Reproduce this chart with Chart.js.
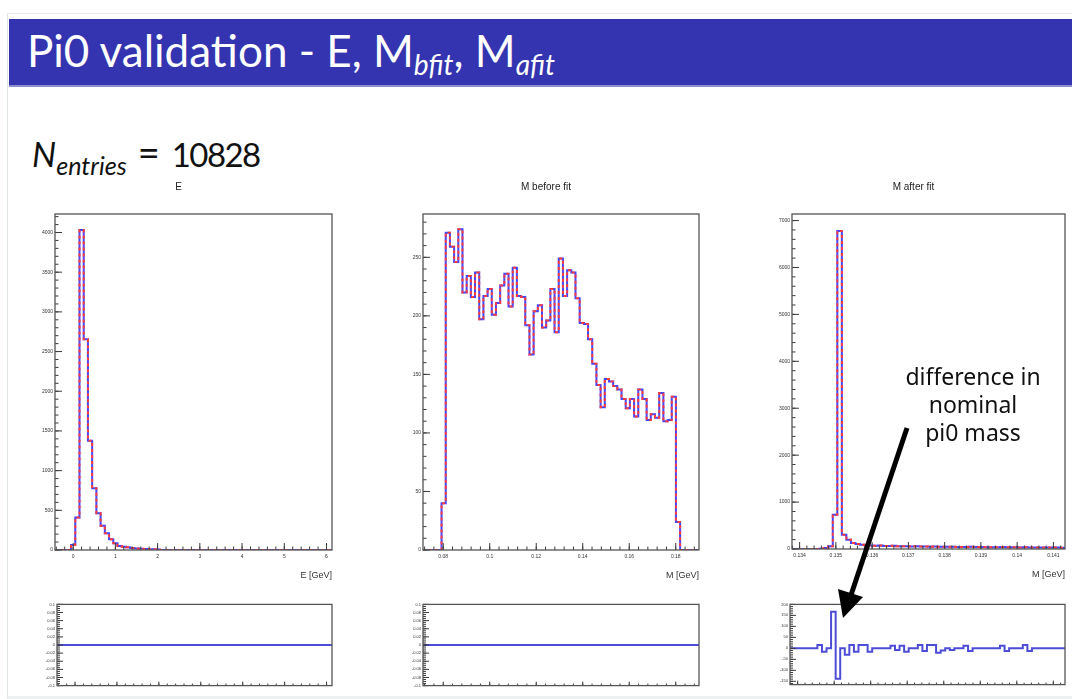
<!DOCTYPE html>
<html>
<head>
<meta charset="utf-8">
<script src="https://cdn.jsdelivr.net/npm/chart.js@4.4.1/dist/chart.umd.min.js"></script>
<style>
  html, body { margin: 0; padding: 0; width: 1072px; height: 699px; overflow: hidden; background: #fff; }
  #slide { position: absolute; left: 7px; top: 13px; width: 1070px; height: 682px; background: #fff;
           border-left: 1px solid #dfe4e4; border-top: 1px solid #e4e8e8; border-bottom: 3px solid #edf1f1; }
  #bar { position: absolute; left: 9px; top: 19px; width: 1063px; height: 66px; background: #3434b0;
         border-bottom: 2px solid #8c8cd0; }
  #bar .t { position: absolute; left: 18px; top: 5px; color: #fff; font-family: Lato, sans-serif;
            font-size: 44px; white-space: nowrap; letter-spacing: 0px; }
  #bar sub { font-style: italic; font-size: 0.64em; vertical-align: -0.28em; }
  #nent { position: absolute; left: 32px; top: 132px; height: 44px; font-family: Lato, sans-serif; font-size: 34px;
          line-height: 44px; color: #111; white-space: nowrap; }
  #nent i { font-style: italic; }
  #nent sub { font-style: italic; font-size: 0.74em; vertical-align: -0.3em; line-height: 0; }
  #nent .eq { font-size: 38px; margin: 0 12px 0 11px; line-height: 0; }
  #nent .num { font-size: 33px; letter-spacing: -1.6px; line-height: 0; }
  #note { position: absolute; left: 880px; top: 362px; width: 186px; text-align: center;
          font-family: "Noto Sans", sans-serif; font-size: 23px; line-height: 28px; color: #111; }
  canvas { position: absolute; }
  svg { position: absolute; left: 0; top: 0; }
</style>
</head>
<body>
<div id="slide"></div>
<div id="bar"><span class="t">Pi0 validation - E, M<sub>bfit</sub>, M<sub>afit</sub></span></div>
<div id="nent"><i>N</i><sub>entries</sub><span class="eq">=</span><span class="num">10828</span></div>
<div id="charts"></div>
<div id="note">difference in<br>nominal<br>pi0 mass</div>
<svg width="1072" height="699">
  <line x1="907" y1="428" x2="851" y2="595" stroke="#000" stroke-width="5"/>
  <polygon points="843,618 863,597 838,589" fill="#000"/>
</svg>

<script>
// ---- E histogram (bins of 0.1 GeV) ----
const eStart = -0.05;
const eWidth = 0.1;
const eCounts = [63, 409, 4030, 2654, 1377, 779, 463, 307, 210, 135, 84, 50, 42, 34, 25, 20, 15, 12, 10, 8, 6];
const eDiff = [0, 0, 0, 0, 0, 0, 0, 0, 0, 0, 0, 0, 0, 0, 0, 0, 0, 0, 0, 0, 0];
const eXTicks = [0, 1, 2, 3, 4, 5, 6];
const eXLabels = ["0", "1", "2", "3", "4", "5", "6"];
const eYTicks = [0, 500, 1000, 1500, 2000, 2500, 3000, 3500, 4000];

// ---- M before fit ----
const mbStart = 0.07928;
const mbWidth = 0.0018;
const mbCounts = [40, 271, 259, 246, 274, 220, 234, 216, 237, 197, 217, 223, 201, 211, 226, 236, 208, 241, 217,
  216, 192, 167, 204, 209, 190, 196, 223, 186, 249, 217, 239, 237, 215, 194, 193, 180, 159, 141, 122, 146, 144,
  140, 137, 129, 121, 129, 114, 137, 129, 111, 116, 113, 134, 110, 111, 131, 24];
const mbDiff = [0, 0, 0, 0, 0, 0, 0, 0, 0, 0, 0, 0, 0, 0, 0, 0, 0, 0, 0, 0, 0, 0, 0, 0, 0, 0, 0, 0, 0,
  0, 0, 0, 0, 0, 0, 0, 0, 0, 0, 0, 0, 0, 0, 0, 0, 0, 0, 0, 0, 0, 0, 0, 0, 0, 0, 0, 0];
const mbXTicks = [0.08, 0.1, 0.12, 0.14, 0.16, 0.18];
const mbXLabels = ["0.08", "0.1", "0.12", "0.14", "0.16", "0.18"];
const mbYTicks = [0, 50, 100, 150, 200, 250];

// ---- M after fit ----
const maStart = 0.13379;
const maWidth = 0.000125;
const maCounts = [0, 0, 0, 0, 0, 0, 4, 20, 57, 731, 6778, 305, 199, 128, 106, 92, 81, 77, 70, 72, 66, 63,
  67, 60, 58, 61, 55, 57, 52, 54, 50, 53, 47, 49, 46, 48, 44, 45, 43, 46, 41, 40, 42, 38, 39, 37, 40, 36,
  35, 37, 34, 36, 33, 34, 32, 33, 31, 30, 32, 29];
const maDiff = [0, 0, 0, 0, 0, 0, 15, -15, 0, 167, -138, 0, -29, 15, -15, 15, 15, -15, 0, 0, 0, 0,
  12, -8, 12, -15, 0, 0, 15, -12, 15, 15, -20, -10, 0, -8, 0, 0, 12, -12, 0, 0, 0, 0, 0, 0,
  12, -12, 0, 0, 0, 15, -12, 0, 0, 0, 0, 0, 0, 0];
const maXTicks = [0.134, 0.135, 0.136, 0.137, 0.138, 0.139, 0.14, 0.141];
const maXLabels = ["0.134", "0.135", "0.136", "0.137", "0.138", "0.139", "0.14", "0.141"];
const maYTicks = [0, 1000, 2000, 3000, 4000, 5000, 6000, 7000];

// ---- difference pads ----
const dSmallTicks = [-0.1, -0.08, -0.06, -0.04, -0.02, 0, 0.02, 0.04, 0.06, 0.08, 0.1];
const dSmallLabels = ["-0.1", "-0.08", "-0.06", "-0.04", "-0.02", "0", "0.02", "0.04", "0.06", "0.08", "0.1"];
const dMaTicks = [-150, -100, -50, 0, 50, 100, 150, 200];

const tickFont = { family: "Liberation Sans", size: 5 };

// histogram outline as step points, zero outside the filled bins
const stepPoints = (start, width, values, xMin, xMax) => {
  const pts = [{ x: xMin, y: 0 }];
  values.forEach((v, i) => pts.push({ x: start + i * width, y: v }));
  pts.push({ x: start + values.length * width, y: 0 });
  pts.push({ x: xMax, y: 0 });
  return pts;
};

const listTicks = (min, max, step) => {
  const out = [];
  for (let v = Math.ceil(min / step - 1e-6) * step; v <= max + 1e-9; v += step) out.push(v);
  return out;
};

// ROOT-like frame with inward major/minor ticks
const rootFrame = {
  id: "rootFrame",
  afterDatasetsDraw(chart, args, o) {
    const { ctx, chartArea: a, scales: { x, y } } = chart;
    ctx.save();
    ctx.strokeStyle = "#3a3a3a";
    ctx.lineWidth = 1;
    ctx.beginPath();
    o.xMajor.forEach(v => { const px = x.getPixelForValue(v); ctx.moveTo(px, a.bottom); ctx.lineTo(px, a.bottom - o.xLen); });
    listTicks(x.min, x.max, o.xMinor).forEach(v => { const px = x.getPixelForValue(v); ctx.moveTo(px, a.bottom); ctx.lineTo(px, a.bottom - o.xLen / 2); });
    o.yMajor.forEach(v => { const py = y.getPixelForValue(v); ctx.moveTo(a.left, py); ctx.lineTo(a.left + o.yLen, py); });
    listTicks(y.min, y.max, o.yMinor).forEach(v => { const py = y.getPixelForValue(v); ctx.moveTo(a.left, py); ctx.lineTo(a.left + o.yLen / 2, py); });
    ctx.stroke();
    ctx.strokeStyle = "#555";
    ctx.lineWidth = 1.3;
    ctx.strokeRect(a.left, a.top, a.width, a.height);
    ctx.restore();
  }
};

const holder = document.getElementById("charts");
const addCanvas = (left, top, width, height) => {
  const c = document.createElement("canvas");
  c.width = width; c.height = height;
  c.style.left = left + "px"; c.style.top = top + "px";
  c.style.width = width + "px"; c.style.height = height + "px";
  holder.appendChild(c);
  return c;
};

const makeHist = (frame, cfg) => {
  const [L, T, R, B] = frame;
  const top = 179;
  const canvas = addCanvas(L - 30, top, R - L + 60, B - top + 33);
  const pts = stepPoints(cfg.start, cfg.width, cfg.values, cfg.xMin, cfg.xMax);
  new Chart(canvas, {
    type: "line",
    data: {
      // dataset 0 is painted last, so the dashed red one goes first to sit on top
      datasets: [
        { data: pts, borderColor: "#ff3c3c", borderWidth: 2, borderDash: [3, 3], stepped: "before", pointRadius: 0 },
        { data: pts, borderColor: "#4646ff", borderWidth: 2, stepped: "before", pointRadius: 0 }
      ]
    },
    options: {
      responsive: false, animation: false, events: [],
      layout: { padding: { left: 0, right: 30, top: 2, bottom: 2 } },
      plugins: {
        legend: { display: false }, tooltip: { enabled: false },
        title: { display: true, text: cfg.title, color: "#222",
                 font: { family: "Liberation Sans", size: 10, weight: "normal" },
                 padding: { top: 0, bottom: 21 } },
        rootFrame: { xMajor: cfg.xTicks, xMinor: cfg.xMinor, yMajor: cfg.yTicks, yMinor: cfg.yMinor, xLen: 7, yLen: 7 }
      },
      scales: {
        x: {
          type: "linear", min: cfg.xMin, max: cfg.xMax,
          afterBuildTicks: s => { s.ticks = cfg.xTicks.map(v => ({ value: v })); },
          afterFit: s => { s.height = 31; },
          grid: { display: false, drawTicks: false }, border: { display: false },
          ticks: { font: tickFont, color: "#333", padding: 4, maxRotation: 0, autoSkip: false,
                   callback: (v, i) => cfg.xLabels[i] },
          title: { display: true, text: cfg.xTitle, align: "end", color: "#333",
                   font: { family: "Liberation Sans", size: 9 }, padding: 0 }
        },
        y: {
          min: 0, max: cfg.yMax,
          afterBuildTicks: s => { s.ticks = cfg.yTicks.map(v => ({ value: v })); },
          afterFit: s => { s.width = 30; },
          grid: { display: false, drawTicks: false }, border: { display: false },
          ticks: { font: tickFont, color: "#333", padding: 2, autoSkip: false, callback: v => String(v) }
        }
      }
    },
    plugins: [rootFrame]
  });
};

const makeDiff = (frame, cfg) => {
  const [L, T, R, B] = frame;
  const canvas = addCanvas(L - 30, T - 3, R - L + 35, B - T + 6);
  new Chart(canvas, {
    type: "line",
    data: {
      datasets: [
        { data: stepPoints(cfg.start, cfg.width, cfg.values, cfg.xMin, cfg.xMax),
          borderColor: "#4c4cd6", borderWidth: 2, stepped: "before", pointRadius: 0 }
      ]
    },
    options: {
      responsive: false, animation: false, events: [],
      layout: { padding: { left: 0, right: 5, top: 3, bottom: 3 } },
      plugins: {
        legend: { display: false }, tooltip: { enabled: false },
        rootFrame: { xMajor: cfg.xTicks, xMinor: cfg.xMinor, yMajor: cfg.yTicks, yMinor: cfg.yMinor, xLen: 4, yLen: 6 }
      },
      scales: {
        x: {
          type: "linear", min: cfg.xMin, max: cfg.xMax,
          afterFit: s => { s.height = 0; },
          grid: { display: false, drawTicks: false }, border: { display: false },
          ticks: { display: false }
        },
        y: {
          min: cfg.yMin, max: cfg.yMax,
          afterBuildTicks: s => { s.ticks = cfg.yTicks.map(v => ({ value: v })); },
          afterFit: s => { s.width = 30; },
          grid: { display: false, drawTicks: false }, border: { display: false },
          ticks: { font: { family: "Liberation Sans", size: 4 }, color: "#333", padding: 2, autoSkip: false,
                   callback: (v, i) => cfg.yLabels[i] }
        }
      }
    },
    plugins: [rootFrame]
  });
};

const eAxis = { xMin: -0.43, xMax: 6.13, xTicks: eXTicks, xMinor: 0.2 };
const mbAxis = { xMin: 0.0713, xMax: 0.19, xTicks: mbXTicks, xMinor: 0.004 };
const maAxis = { xMin: 0.13379, xMax: 0.14132, xTicks: maXTicks, xMinor: 0.0002 };

makeHist([55, 215, 332, 550], { ...eAxis, start: eStart, width: eWidth, values: eCounts, title: "E",
  xLabels: eXLabels, xTitle: "E [GeV]", yMax: 4233, yTicks: eYTicks, yMinor: 100 });
makeHist([423, 215, 699, 550], { ...mbAxis, start: mbStart, width: mbWidth, values: mbCounts, title: "M before fit",
  xLabels: mbXLabels, xTitle: "M [GeV]", yMax: 287, yTicks: mbYTicks, yMinor: 10 });
makeHist([792, 214, 1065, 549], { ...maAxis, start: maStart, width: maWidth, values: maCounts, title: "M after fit",
  xLabels: maXLabels, xTitle: "M [GeV]", yMax: 7140, yTicks: maYTicks, yMinor: 200 });

makeDiff([57, 603, 332, 687], { ...eAxis, start: eStart, width: eWidth, values: eDiff,
  yMin: -0.1, yMax: 0.1, yTicks: dSmallTicks, yLabels: dSmallLabels, yMinor: 0.005 });
makeDiff([423, 603, 699, 687], { ...mbAxis, start: mbStart, width: mbWidth, values: mbDiff,
  yMin: -0.1, yMax: 0.1, yTicks: dSmallTicks, yLabels: dSmallLabels, yMinor: 0.005 });
makeDiff([790, 603, 1065, 686], { ...maAxis, start: maStart, width: maWidth, values: maDiff,
  yMin: -165, yMax: 200, yTicks: dMaTicks, yLabels: dMaTicks.map(String), yMinor: 10 });
</script>
</body>
</html>
